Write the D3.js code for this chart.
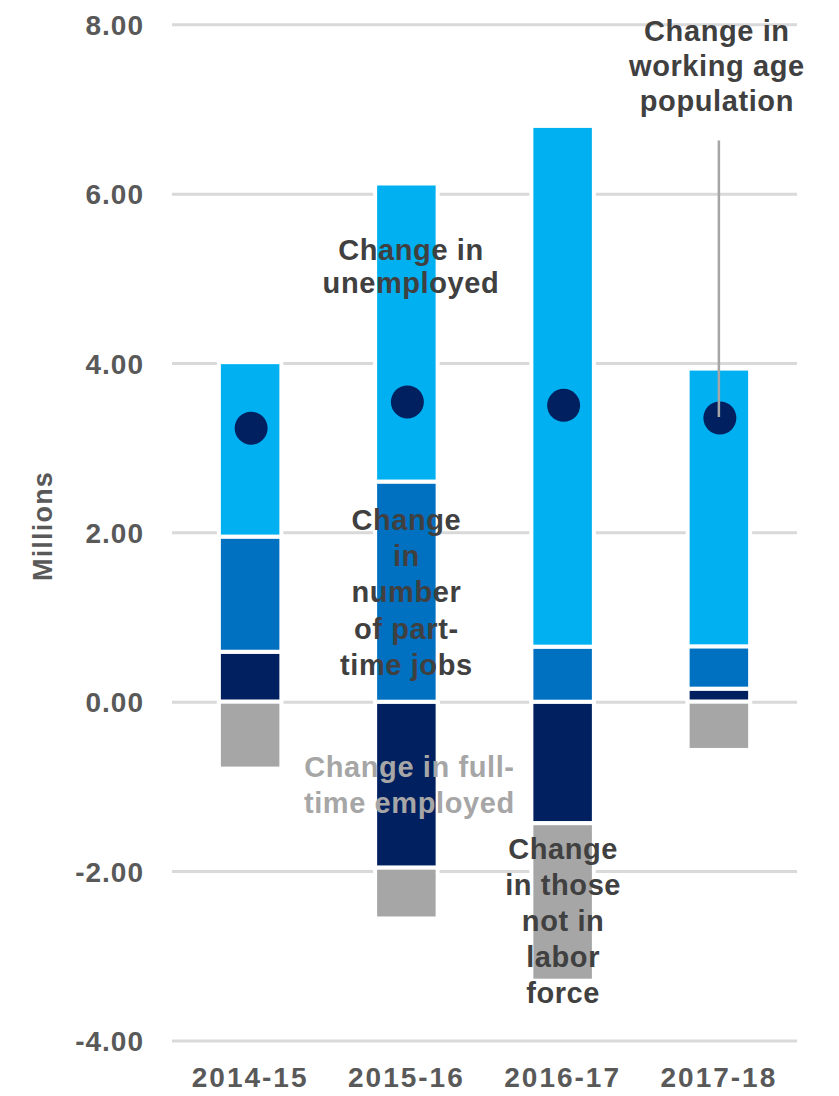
<!DOCTYPE html>
<html>
<head>
<meta charset="utf-8">
<script src="https://cdn.jsdelivr.net/npm/d3@7"></script>
<style>
  html, body { margin: 0; padding: 0; background: #ffffff; }
  svg { display: block; }
  text { font-family: "Liberation Sans", Arial, sans-serif; font-weight: bold; }
</style>
</head>
<body>
<svg id="chart" width="839" height="1096"></svg>
<script>
// ---- data (millions) ----
const categories = ["2014-15", "2015-16", "2016-17", "2017-18"];
const fullTime     = [0.59, -1.96, -1.435, 0.154];
const partTime     = [1.36, 2.60, 0.65, 0.50];
const unemployed   = [2.06, 3.52, 6.15, 3.28];
const notInLabor   = [-0.79, -0.60, -1.86, -0.57];
const workingAge   = [3.23, 3.54, 3.50, 3.35];
const yTicks       = [-4, -2, 0, 2, 4, 6, 8];

const seriesKeys   = ["fullTime", "partTime", "unemployed", "notInLabor"];
const seriesColors = ["#002060", "#0070c0", "#00b0f0", "#a6a6a6"];

// annotations: [category, value (millions), x offset px, lines, colour, line step]
const annotations = [
  ["2015-16", 5.217, 4.6, ["Change in", "unemployed"], "#404040", 33],
  ["2015-16", 2.028, 0, ["Change", "in", "number", "of part-", "time jobs"], "#404040", 36.2],
  ["2015-16", -0.886, 3, ["Change in full-", "time employed"], "#a6a6a6", 36],
  ["2016-17", -1.858, 0.5, ["Change", "in those", "not in", "labor", "force"], "#404040", 36],
  ["2017-18", 7.806, -2, ["Change in", "working age", "population"], "#404040", 35]
];

// ---- build table ----
const table = categories.map((c, i) => ({
  category: c,
  fullTime: fullTime[i],
  partTime: partTime[i],
  unemployed: unemployed[i],
  notInLabor: notInLabor[i],
  workingAge: workingAge[i]
}));

const svg = d3.select("#chart");
const plotLeft = 172, plotRight = 797, plotTop = 24.3, plotBottom = 1040.4;

const x = d3.scaleBand().domain(categories).range([plotLeft, plotRight])
  .paddingInner(0.6).paddingOuter(0.3);
const y = d3.scaleLinear().domain([-4, 8]).range([plotBottom, plotTop]);

// gridlines + y tick labels
const yAxis = d3.axisLeft(y).tickValues(yTicks)
  .tickSize(-(plotRight - plotLeft)).tickPadding(28)
  .tickFormat(d => d.toFixed(2));
const gy = svg.append("g").attr("transform", `translate(${plotLeft},0)`).call(yAxis);
gy.select(".domain").remove();
gy.selectAll(".tick line").attr("stroke", "#d9d9d9").attr("stroke-width", 3);
gy.selectAll(".tick text")
  .attr("fill", "#595959").attr("font-size", 28).attr("letter-spacing", 1)
  .attr("dy", "0.36em");

// y title
svg.append("text")
  .attr("transform", `translate(${52},${526}) rotate(-90)`)
  .attr("text-anchor", "middle")
  .attr("fill", "#595959").attr("font-size", 27).attr("letter-spacing", 1.2)
  .text("Millions");

// x labels
const xAxis = d3.axisBottom(x).tickSize(0).tickPadding(0);
const gx = svg.append("g").attr("transform", `translate(0,${1087})`).call(xAxis);
gx.select(".domain").remove();
gx.selectAll(".tick text")
  .attr("fill", "#595959").attr("font-size", 28).attr("letter-spacing", 2)
  .attr("dy", 0).attr("y", 0);

// stacked bars
const stack = d3.stack().keys(seriesKeys).offset(d3.stackOffsetDiverging);
const stacked = stack(table);
const color = d3.scaleOrdinal().domain(seriesKeys).range(seriesColors);

svg.append("g").selectAll("g")
  .data(stacked).join("g")
  .attr("fill", d => color(d.key))
  .selectAll("rect")
  .data(d => d).join("rect")
  .attr("x", d => x(d.data.category))
  .attr("width", x.bandwidth())
  .attr("y", d => y(Math.max(d[0], d[1])))
  .attr("height", d => Math.abs(y(d[0]) - y(d[1])))
  .attr("stroke", "#ffffff").attr("stroke-width", 4);

// working age population dots
svg.append("g").selectAll("circle")
  .data(table).join("circle")
  .attr("cx", d => x(d.category) + x.bandwidth() / 2 + 1)
  .attr("cy", d => y(d.workingAge))
  .attr("r", 16.5)
  .attr("fill", "#002060");

// callout line for working age population
const lastCat = categories[categories.length - 1];
svg.append("line")
  .attr("x1", x(lastCat) + x.bandwidth() / 2)
  .attr("x2", x(lastCat) + x.bandwidth() / 2)
  .attr("y1", y(6.628))
  .attr("y2", y(workingAge[workingAge.length - 1]) - 1)
  .attr("stroke", "#a6a6a6").attr("stroke-width", 2.5);

// annotations
annotations.forEach(([cat, val, dx, lines, col, step]) => {
  const t = svg.append("text")
    .attr("text-anchor", "middle")
    .attr("fill", col).attr("font-size", 29).attr("letter-spacing", 0.6);
  const cx = x(cat) + x.bandwidth() / 2 + dx;
  lines.forEach((ln, i) => {
    t.append("tspan").attr("x", cx).attr("y", y(val) + i * step).text(ln);
  });
});
</script>
</body>
</html>
